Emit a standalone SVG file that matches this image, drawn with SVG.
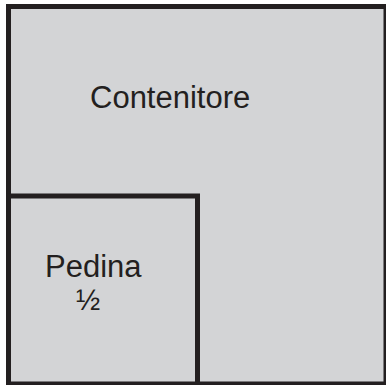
<svg xmlns="http://www.w3.org/2000/svg" width="386" height="385" viewBox="0 0 386 385">
<style>
.box{fill:#d3d4d6;stroke:#231f20;stroke-width:5}
.lbl{font-family:"Liberation Sans",Arial,sans-serif;font-size:31px;fill:#231f20}
</style>
<rect width="386" height="385" fill="#ffffff"/>
<g id="contenitore">
<rect class="box" x="8.5" y="6.5" width="377.5" height="377.5"/>
<text class="lbl" x="90" y="108">Contenitore</text>
</g>
<g id="pedina">
<rect class="box" x="8.5" y="196" width="189" height="188"/>
<text class="lbl" x="45" y="277">Pedina</text>
<text class="lbl" x="76" y="310" style="font-size:29px">½</text>
</g>
<g id="connectors"/>
</svg>
